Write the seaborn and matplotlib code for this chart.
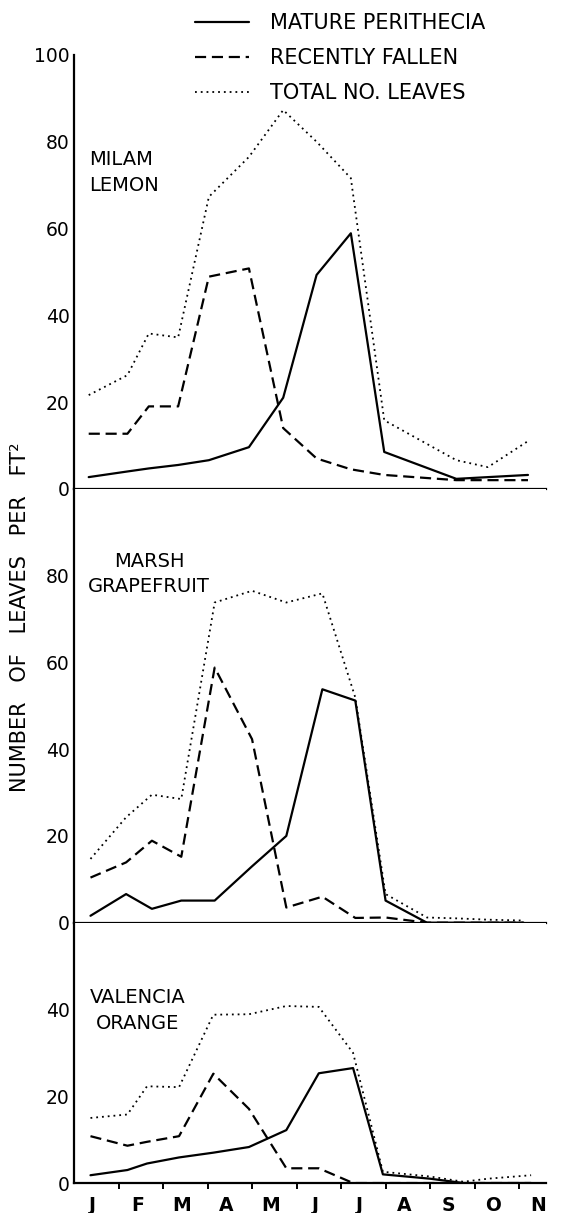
import matplotlib
matplotlib.use("Agg")
import matplotlib.pyplot as plt
import numpy as np
import pandas as pd
import seaborn as sns

# month axis: 0 = start of January, one unit per month
months = ["J", "F", "M", "A", "M", "J", "J", "A", "S", "O", "N"]
series_names = ["MATURE PERITHECIA", "RECENTLY FALLEN", "TOTAL NO. LEAVES"]

# Milam lemon
lemon_x = [0.33, 1.2, 1.68, 2.34, 3.03, 3.93, 4.7, 5.45, 6.22, 6.97, 8.59, 9.3, 10.2]
lemon_mature = [2.7, 4.0, 4.7, 5.5, 6.6, 9.6, 21.0, 49.3, 58.9, 8.5, 2.3, 2.7, 3.2]
lemon_fallen = [12.7, 12.7, 19.0, 19.0, 48.9, 50.8, 14.0, 7.0, 4.5, 3.2, 2.0, 2.0, 2.0]
lemon_total = [21.6, 26.2, 35.8, 34.9, 67.3, 76.5, 87.3, 80.0, 71.6, 15.8, 6.6, 5.0, 11.0]

# Marsh grapefruit
grapefruit_x = [0.37, 1.17, 1.75, 2.41, 3.16, 4.0, 4.77, 5.58, 6.32, 7.0, 7.93, 8.6, 9.3, 10.1]
grapefruit_mature = [1.6, 6.6, 3.2, 5.1, 5.1, 13.0, 20.0, 53.8, 51.2, 5.1, 0.0, 0.0, 0.0, 0.0]
grapefruit_fallen = [10.4, 13.9, 18.9, 15.2, 58.8, 42.3, 3.5, 6.0, 1.1, 1.2, 0.0, 0.0, 0.0, 0.0]
grapefruit_total = [14.7, 24.3, 29.5, 28.5, 73.8, 76.5, 73.8, 75.9, 51.9, 6.6, 1.2, 1.0, 0.7, 0.5]

# Valencia orange
orange_x = [0.37, 1.2, 1.64, 2.36, 3.13, 3.93, 4.77, 5.5, 6.27, 6.94, 8.0, 8.75, 9.3, 10.27]
orange_mature = [1.8, 3.0, 4.5, 5.9, 7.0, 8.3, 12.2, 25.3, 26.5, 2.0, 1.0, 0.0, 0.0, 0.0]
orange_fallen = [10.8, 8.6, 9.5, 10.8, 25.2, 17.1, 3.4, 3.4, 0.0, 0.0, 0.0, 0.0, 0.0, 0.0]
orange_total = [15.0, 15.8, 22.3, 22.1, 38.8, 38.9, 40.8, 40.6, 30.0, 2.6, 1.5, 0.3, 1.0, 1.8]


def panel_frame(x, mature, fallen, total):
    parts = []
    for name, vals in zip(series_names, [mature, fallen, total]):
        parts.append(pd.DataFrame({"month": x, "leaves": vals, "series": name}))
    return pd.concat(parts, ignore_index=True)


panels = [
    (panel_frame(lemon_x, lemon_mature, lemon_fallen, lemon_total), "MILAM\nLEMON", 100, [0, 20, 40, 60, 80, 100]),
    (panel_frame(grapefruit_x, grapefruit_mature, grapefruit_fallen, grapefruit_total), "MARSH\nGRAPEFRUIT", 100, [0, 20, 40, 60, 80]),
    (panel_frame(orange_x, orange_mature, orange_fallen, orange_total), "VALENCIA\nORANGE", 60, [0, 20, 40]),
]

sns.set_style("ticks")
plt.rcParams["font.family"] = ["DejaVu Sans"]
for key in ["text.color", "axes.labelcolor", "xtick.color", "ytick.color", "axes.edgecolor"]:
    plt.rcParams[key] = "black"

dash_map = {"MATURE PERITHECIA": "", "RECENTLY FALLEN": (5, 2.6), "TOTAL NO. LEAVES": (1, 2.2)}

fig, axes = plt.subplots(3, 1, figsize=(5.65, 12.13), dpi=100, sharex=True,
                         gridspec_kw={"height_ratios": [100, 100, 60], "hspace": 0})
fig.subplots_adjust(left=0.131, right=0.966, top=0.9547, bottom=0.0247)

label_pos = [(0.33, 78, "left"), (1.69, 85.5, "center"), (1.43, 45.0, "center")]

for ax, (df, name, ytop, yticks), (lx, ly, lha) in zip(axes, panels, label_pos):
    sns.lineplot(data=df, x="month", y="leaves", style="series", dashes=dash_map,
                 color="black", linewidth=1.6, estimator=None, sort=False, legend=False, ax=ax)
    # dotted total line is finer in the original
    ax.lines[2].set_linewidth(1.3)
    ax.set_ylim(0, ytop)
    ax.set_xlim(0, 10.6)
    ax.set_yticks(yticks)
    ax.set_xlabel("")
    ax.set_ylabel("")
    for side in ["top", "right"]:
        ax.spines[side].set_visible(False)
    for side in ["left", "bottom"]:
        ax.spines[side].set_linewidth(1.6)
    ax.tick_params(axis="y", length=0, pad=3, labelsize=13.5)
    ax.text(lx, ly, name, ha=lha, va="top", fontsize=14, multialignment=lha, linespacing=1.45)

# month boundaries as ticks, month letters between them
ax3 = axes[-1]
ax3.set_xticks(np.arange(1, 11))
ax3.set_xticks(np.arange(len(months)) + 0.42, minor=True)
ax3.set_xticklabels([""] * 10)
ax3.set_xticklabels(months, minor=True, fontweight="bold", fontsize=13.5)
for ax in axes:
    ax.tick_params(axis="x", which="major", direction="out", length=4, width=1.4)
    ax.tick_params(axis="x", which="minor", length=0, pad=9)
for ax in axes[:-1]:
    ax.tick_params(axis="x", which="both", labelbottom=False)

handles = axes[0].lines[:3]
fig.legend(handles, series_names, loc="upper left", bbox_to_anchor=(195 / 565, 1 - 13 / 1213),
           frameon=False, fontsize=15, handlelength=2.6, handletextpad=1.0,
           labelspacing=0.72, borderpad=0, borderaxespad=0)

fig.text(20 / 565, 1 - 617 / 1213, "NUMBER   OF   LEAVES   PER   FT²", rotation=90,
         ha="center", va="center", fontsize=15)

fig.savefig("out.png", dpi=100)
